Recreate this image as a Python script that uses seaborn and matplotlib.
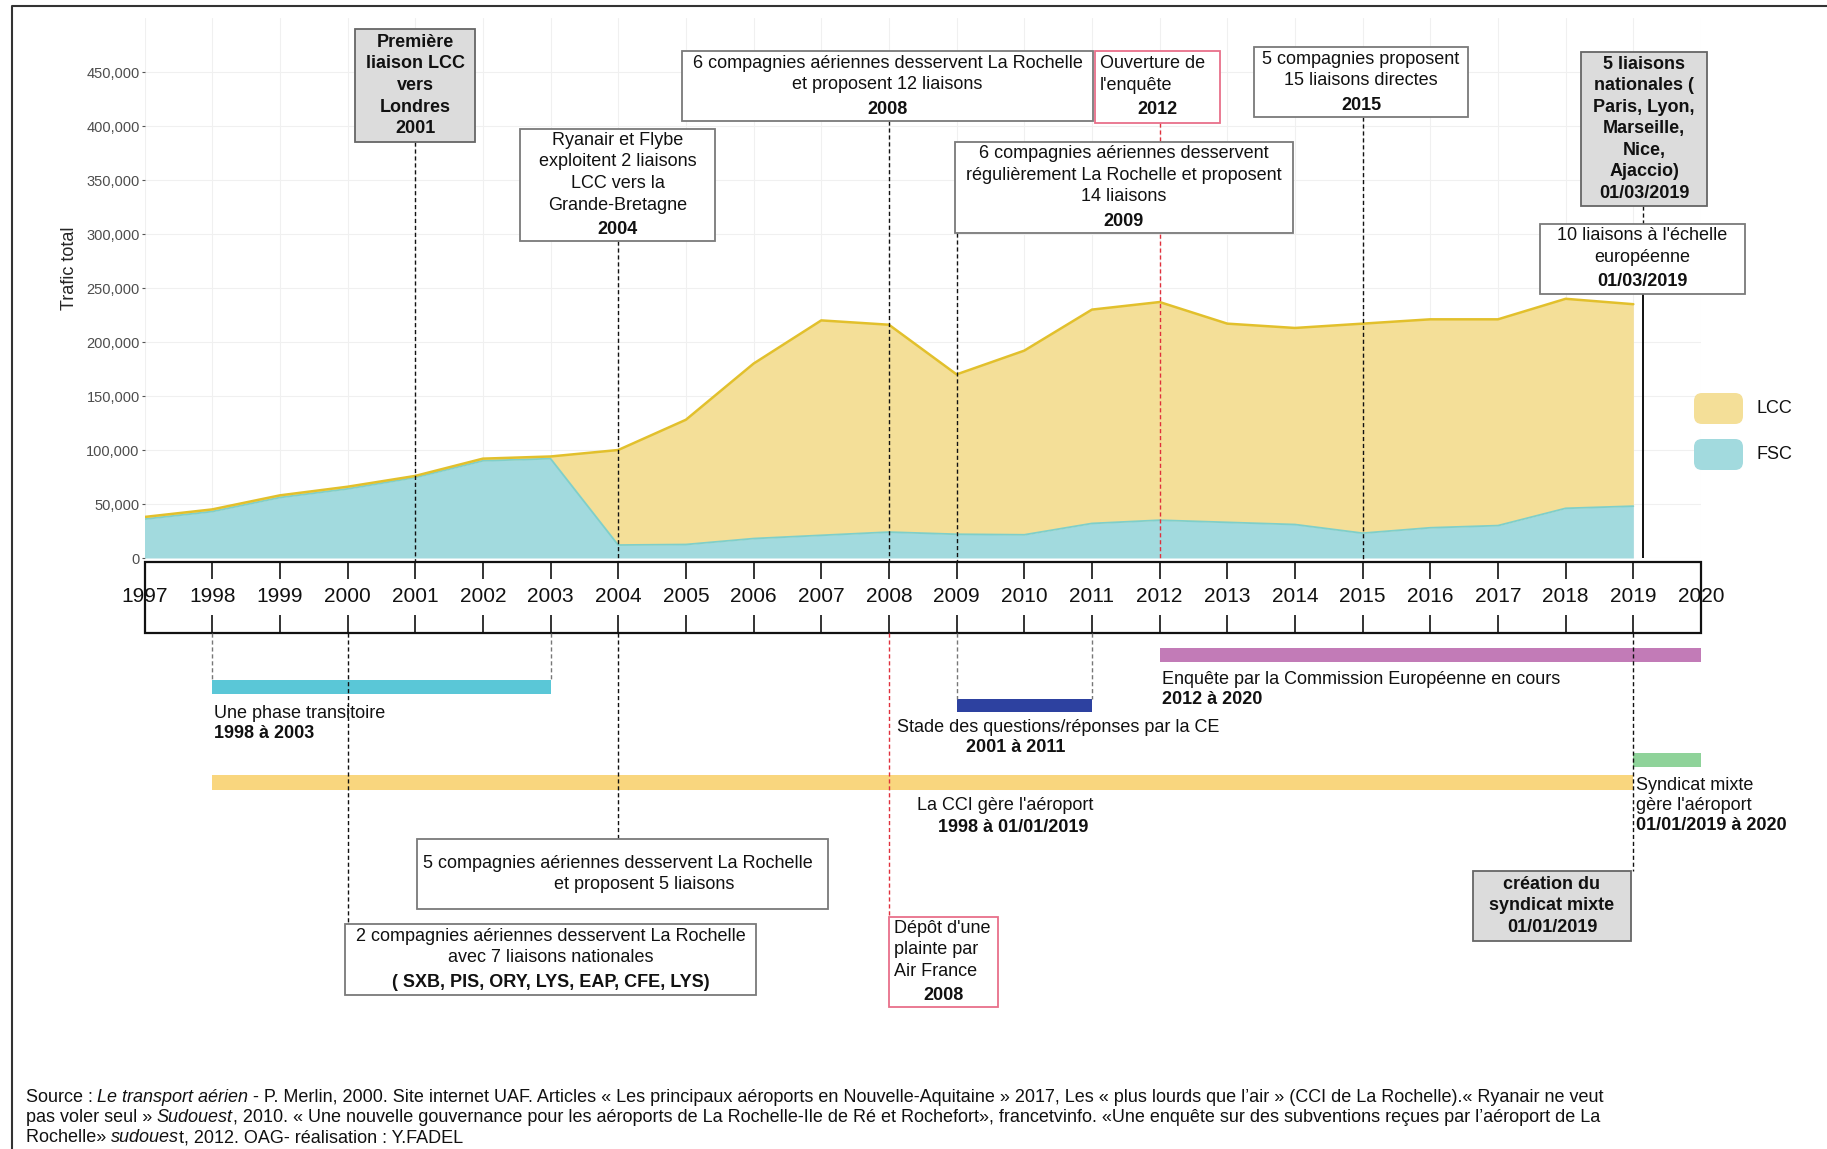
import pandas as pd
import seaborn as sns
import matplotlib.pyplot as plt
from matplotlib.patches import Rectangle, FancyBboxPatch
from matplotlib.ticker import StrMethodFormatter

# --- données ---
annees = list(range(1997, 2020))
fsc = [36000, 43000, 56000, 64000, 74500, 90000, 92000, 12000, 12500, 18000, 21000, 24000,
       22000, 21500, 32000, 35000, 33000, 31000, 23000, 28000, 30000, 46000, 48000]
lcc = [2000, 2000, 2000, 2000, 1500, 2000, 2000, 88000, 115500, 162000, 199000, 192000,
       148000, 170500, 198000, 202000, 184000, 182000, 194000, 193000, 191000, 194000, 187000]
annees_frise = list(range(1997, 2021))
y_ticks = list(range(0, 450001, 50000))

legende_noms = ['LCC', 'FSC']

periodes_debut = [2012, 1998, 2009, 2019, 1998]
periodes_fin = [2020, 2003, 2011, 2020, 2019]

# --- style ---
sns.set_theme(style='white')
plt.rcParams['font.family'] = ['Liberation Sans', 'DejaVu Sans']

LCC_FILL, LCC_LINE = '#f4df98', '#e2c02c'
FSC_FILL, FSC_LINE = '#a2dade', '#7fcfc9'
periodes_couleurs = ['#c27bb7', '#5ac7d7', '#2d41a0', '#8fd39a', '#f9d67e']

W, H = 1827, 1149
X0, X1 = 144.5, 1701.0
STEP = (X1 - X0) / 23


def px2yr(px):
    return 1997 + (px - X0) / STEP


fig = plt.figure(figsize=(W / 100, H / 100), dpi=100)

# graphique principal
ax = fig.add_axes([X0 / W, 1 - 558 / H, (X1 - X0) / W, 540 / H])
df = pd.DataFrame({'annee': annees, 'FSC': fsc, 'LCC': lcc})
df['total'] = df['FSC'] + df['LCC']
ax.fill_between(df['annee'], 0, df['FSC'], color=FSC_FILL, lw=0)
ax.fill_between(df['annee'], df['FSC'], df['total'], color=LCC_FILL, lw=0)
sns.lineplot(data=df, x='annee', y='FSC', color=FSC_LINE, lw=1.3, ax=ax)
sns.lineplot(data=df, x='annee', y='total', color=LCC_LINE, lw=1.8, ax=ax)
ax.set_xlim(1997, 2020)
ax.set_ylim(0, 500000)
ax.set_xticks(annees_frise)
ax.set_yticks(y_ticks)
ax.yaxis.set_major_formatter(StrMethodFormatter('{x:,.0f}'))
ax.tick_params(axis='x', length=0, labelbottom=False)
ax.tick_params(axis='y', left=True, length=2.5, width=0.8, color='#555555',
               labelsize=10.5, labelcolor='#4d4d4d', pad=1)
ax.grid(True, color='#f0f0f0', lw=0.8)
ax.set_xlabel('')
ax.set_ylabel('Trafic total', fontsize=13)
ax.yaxis.set_label_coords(-0.043, 0.537)
for s in ax.spines.values():
    s.set_visible(False)
ax.patch.set_alpha(0)

# calque en années (x) et pixels (y)
over = fig.add_axes([0, 0, 1, 1], zorder=5)
over.set_xlim(px2yr(0), px2yr(W))
over.set_ylim(H, 0)
over.axis('off')
over.patch.set_alpha(0)

# calque en pixels
pix = fig.add_axes([0, 0, 1, 1], zorder=6)
pix.set_xlim(0, W)
pix.set_ylim(H, 0)
pix.axis('off')
pix.patch.set_alpha(0)

# cadre
pix.plot([12, 12, W], [H, 6, 6], color='#333333', lw=1.5)

# frise des années
over.add_patch(Rectangle((1997, 561.5), 23, 71, fill=False, ec='#111111', lw=1.6))
over.vlines(annees_frise, 561.5, 579, color='#111111', lw=1.2)
over.vlines(annees_frise, 615, 632.5, color='#111111', lw=1.2)
for a in annees_frise:
    over.text(a, 597, str(a), ha='center', va='center', fontsize=15, color='#111111')

# traits de rappel
DASH = (0, (3, 2))
noir = '#111111'
rouge = '#e0303c'
gris = '#777777'
rappels = [
    (2001, 142, 561, noir), (2008, 121, 561, noir), (2012, 123, 558, rouge),
    (2004, 241, 561, noir), (2009, 233, 561, noir), (2015, 117, 561, noir),
    (px2yr(1643), 206, 224, noir),
    (2008, 633, 917, rouge), (2004, 633, 839, noir), (2009, 633, 699, gris),
    (2011, 633, 699, gris), (1998, 633, 680, gris), (2003, 633, 680, gris),
    (2000, 633, 924, noir), (2019, 633, 871, noir),
]
for x, ya, yb, c in rappels:
    over.vlines(x, ya, yb, colors=c, lw=1.0, linestyles=DASH)
over.vlines(px2yr(1643), 294, 558, colors=noir, lw=1.4)

# barres de la frise
barres_y = [655, 687, 705.5, 760, 782.5]
barres_h = [14, 14, 13, 14, 15]
over.barh(barres_y, [f - d for d, f in zip(periodes_debut, periodes_fin)],
          left=periodes_debut, height=barres_h, color=periodes_couleurs, lw=0)

# textes de la frise
FS = 13


def label(x, y, t, bold=False, ha='left'):
    over.text(x, y, t, ha=ha, va='center', fontsize=FS,
              fontweight='bold' if bold else 'normal', color='#111111')


label(px2yr(1162), 679, 'Enquête par la Commission Européenne en cours')
label(px2yr(1162), 700, '2012 à 2020', True)
label(px2yr(214), 713, 'Une phase transitoire')
label(px2yr(214), 734, '1998 à 2003', True)
label(px2yr(897), 727, 'Stade des questions/réponses par la CE')
label(px2yr(1016), 748, '2001 à 2011', True, ha='center')
label(px2yr(917), 805, "La CCI gère l'aéroport")
label(px2yr(938), 827, '1998 à 01/01/2019', True)
label(px2yr(1636), 785, 'Syndicat mixte')
label(px2yr(1636), 805, "gère l'aéroport")
label(px2yr(1636), 826, '01/01/2019 à 2020', True)


# encadrés
def encadre(x0, x1, y0, y1, lignes, fc='white', ec='#7a7a7a', align='center'):
    over.add_patch(Rectangle((px2yr(x0), y0), px2yr(x1) - px2yr(x0), y1 - y0,
                             fc=fc, ec=ec, lw=1.3, zorder=3))
    n = len(lignes)
    tous_gras = all(l[1] for l in lignes)
    extra = 0 if tous_gras or not lignes[-1][1] else 3
    pas = 21.5
    y = (y0 + y1) / 2 - ((n - 1) * pas + extra) / 2
    for i, ligne in enumerate(lignes):
        t, b = ligne[0], ligne[1]
        if i == n - 1:
            y += extra
        if len(ligne) > 2:
            x, ha = px2yr(x0 + ligne[2]), 'left'
        elif align == 'left' and not (b and not tous_gras):
            x, ha = px2yr(x0 + 5), 'left'
        else:
            x, ha = px2yr((x0 + x1) / 2), 'center'
        over.text(x, y, t, ha=ha, va='center', fontsize=FS, zorder=4,
                  fontweight='bold' if b else 'normal', color='#111111')
        y += pas


GRIS = '#dcdcdc'
ROSE = '#e8708a'
encadre(355, 475, 29, 142, [('Première', 1), ('liaison LCC', 1), ('vers', 1),
                             ('Londres', 1), ('2001', 1)], fc=GRIS, ec='#666666')
encadre(682, 1093, 51, 121, [('6 compagnies aériennes desservent La Rochelle', 0),
                              ('et proposent 12 liaisons', 0), ('2008', 1)])
encadre(1095, 1220, 51, 123, [('Ouverture de', 0), ("l'enquête", 0), ('2012', 1)],
        ec=ROSE, align='left')
encadre(520, 715, 129, 241, [('Ryanair et Flybe', 0), ('exploitent 2 liaisons', 0),
                              ('LCC vers la', 0), ('Grande-Bretagne', 0), ('2004', 1)])
encadre(955, 1293, 142, 233, [('6 compagnies aériennes desservent', 0),
                               ('régulièrement La Rochelle et proposent', 0),
                               ('14 liaisons', 0), ('2009', 1)])
encadre(1254, 1468, 47, 117, [('5 compagnies proposent', 0),
                               ('15 liaisons directes', 0), ('2015', 1)])
encadre(1581, 1707, 52, 206, [('5 liaisons', 1), ('nationales (', 1), ('Paris, Lyon,', 1),
                               ('Marseille,', 1), ('Nice,', 1), ('Ajaccio)', 1),
                               ('01/03/2019', 1)], fc=GRIS, ec='#666666')
encadre(1540, 1745, 224, 294, [("10 liaisons à l'échelle", 0), ('européenne', 0),
                                ('01/03/2019', 1)])
encadre(417, 828, 839, 909, [('5 compagnies aériennes desservent La Rochelle', 0, 6),
                              ('et proposent 5 liaisons', 0, 137)])
encadre(345, 756, 924, 995, [('2 compagnies aériennes desservent La Rochelle', 0),
                              ('avec 7 liaisons nationales', 0),
                              ('( SXB, PIS, ORY, LYS, EAP, CFE, LYS)', 1)])
encadre(889, 998, 917, 1007, [("Dépôt d'une", 0), ('plainte par', 0),
                               ('Air France', 0), ('2008', 1)], ec=ROSE, align='left')
encadre(1473, 1631, 871, 941, [('création du', 1), ('syndicat mixte', 1),
                                ('01/01/2019', 1)], fc=GRIS, ec='#666666')

# légende
for i, (nom, c) in enumerate(zip(legende_noms, [LCC_FILL, FSC_FILL])):
    y = 393 + i * 46
    pix.add_patch(FancyBboxPatch((1694, y), 49, 31,
                                 boxstyle='round,pad=0,rounding_size=8',
                                 fc=c, ec='none'))
    pix.text(1757, y + 15.5, nom, ha='left', va='center', fontsize=13, color='#111111')

# source
lignes_source = [
    [('Source : ', 'normal'), ('Le transport aérien', 'italic'),
     (' - P. Merlin, 2000. Site internet UAF. Articles « Les principaux aéroports en '
      'Nouvelle-Aquitaine » 2017, Les « plus lourds que l’air » (CCI de La Rochelle).'
      '« Ryanair ne veut', 'normal')],
    [('pas voler seul » ', 'normal'), ('Sudouest', 'italic'),
     (', 2010. « Une nouvelle gouvernance pour les aéroports de La Rochelle-Ile de Ré '
      'et Rochefort», francetvinfo. «Une enquête sur des subventions reçues par '
      'l’aéroport de La', 'normal')],
    [('Rochelle» ', 'normal'), ('sudoues', 'italic'),
     ('t, 2012. OAG- réalisation : Y.FADEL', 'normal')],
]
for k, morceaux in enumerate(lignes_source):
    prev = None
    for t, st in morceaux:
        if prev is None:
            prev = pix.text(25.5, 1097 + k * 20.5, t, fontsize=13, style=st,
                            ha='left', va='center', color='#111111')
        else:
            prev = pix.annotate(t, xy=(1, 0.5), xycoords=prev, fontsize=13, style=st,
                                ha='left', va='center', color='#111111')

fig.savefig('out.png', dpi=100)
